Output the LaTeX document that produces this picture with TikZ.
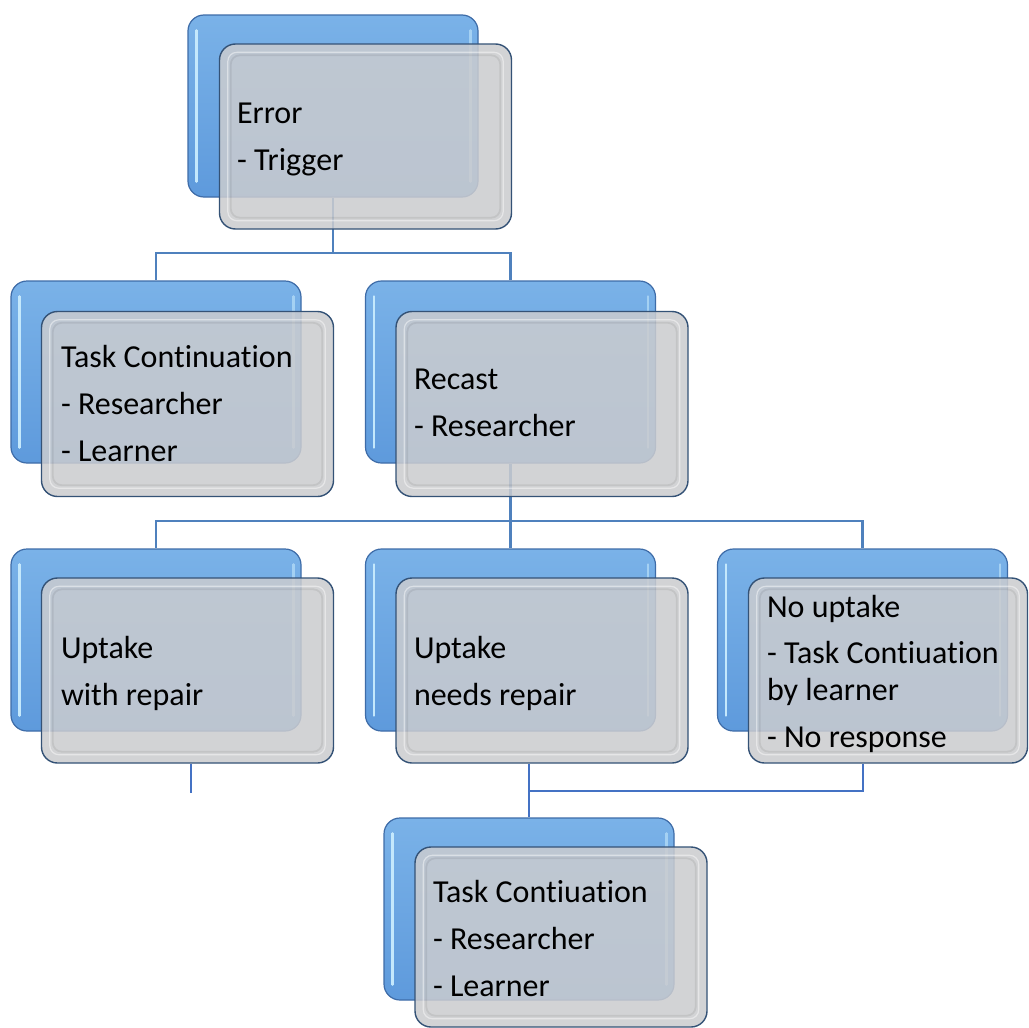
\documentclass[tikz,border=0pt]{standalone}
\usepackage{fontspec}
\setmainfont{Carlito}[Ligatures=NoCommon]
\definecolor{bluetop}{RGB}{122,178,232}
\definecolor{bluebot}{RGB}{94,154,220}
\definecolor{blueedge}{RGB}{62,108,168}
\definecolor{bluehi}{RGB}{196,232,252}
\definecolor{cardfill}{RGB}{203,204,207}
\definecolor{cardedge}{RGB}{52,82,118}
\definecolor{connblue}{RGB}{79,129,189}
\definecolor{lineblue}{RGB}{68,114,196}
\begin{document}
\begin{tikzpicture}[x=1pt,y=-1pt,
  backbox/.style={rounded corners=16pt, minimum width=290pt, minimum height=182pt,
    inner sep=0pt, draw=blueedge, line width=1.2pt, top color=bluetop, bottom color=bluebot},
  frontbox/.style={rounded corners=16pt, minimum width=292pt, minimum height=185pt,
    inner sep=0pt, draw=cardedge, line width=1.4pt, fill=cardfill, fill opacity=0.86},
  hilite/.style={draw=bluehi, line width=2.4pt, line cap=round},
  bevel/.style={draw=white, draw opacity=0.45, line width=1.2pt, rounded corners=9pt},
  bevelshade/.style={draw=black, draw opacity=0.07, line width=1.8pt, rounded corners=9pt},
  conn/.style={draw=connblue, line width=2.6pt},
  userline/.style={draw=lineblue, line width=2pt},
  label/.style={anchor=base west, align=left, inner sep=0pt, outer sep=0pt,
    font=\fontsize{32}{47}\selectfont, text=black},
]
\useasboundingbox (0,0) rectangle (1029,1028);
\fill[white] (0,0) rectangle (1029,1028);

% back (blue) boxes
\foreach \nm/\cx/\cy in {errB/333/106, contB/156/372, recB/510.5/372,
                          upaB/156/640, upbB/510.5/640, noupB/862.5/640, lastB/529/909}{
  \node[backbox] (\nm) at (\cx,\cy) {};
  \draw[hilite] ([xshift=9pt,yshift=-16pt]\nm.north west) -- ([xshift=9pt,yshift=16pt]\nm.south west);
  \draw[hilite, draw opacity=0.6] ([xshift=-8pt,yshift=-16pt]\nm.north east) -- ([xshift=-8pt,yshift=16pt]\nm.south east);
}

% bus coordinates of the tree connectors
\coordinate (busA) at (0,253);
\coordinate (busB) at (0,521);

% tree connectors
\draw[conn] (errB.south) -- (errB.south |- busA) -| (contB.north);
\draw[conn] (errB.south |- busA) -| (recB.north);
\draw[conn] (recB.south) -- (recB.south |- busB) -| (upaB.north);
\draw[conn] (recB.south |- busB) -| (upbB.north);
\draw[conn] (recB.south |- busB) -| (noupB.north);

% front (grey) cards
\node[frontbox] (errF)  at (365.5,136.5) {};
\node[frontbox] (contF) at (187.5,404) {};
\node[frontbox] (recF)  at (542,404) {};
\node[frontbox] (upaF)  at (187.5,670.5) {};
\node[frontbox] (upbF)  at (542,670.5) {};
\node[frontbox, minimum width=279pt] (noupF) at (888,670.5) {};
\node[frontbox, minimum height=180pt] (lastF) at (561,937) {};

\foreach \nm in {errF, contF, recF, upaF, upbF, noupF, lastF}{
  \draw[bevelshade] ([shift={(12pt,-12pt)}]\nm.north west) rectangle ([shift={(-12pt,12pt)}]\nm.south east);
  \draw[bevel] ([shift={(9pt,-9pt)}]\nm.north west) rectangle ([shift={(-9pt,9pt)}]\nm.south east);
}

% texts (anchored at the baseline of the last line)
\node[label] (errT)  at (237,170) {Error\\- Trigger};
\node[label] (contT) at (61,461)  {Task Continuation\\- Researcher\\- Learner};
\node[label] (recT)  at (414,436) {Recast\\- Researcher};
\node[label] (upaT)  at (61,705)  {Uptake\\with repair};
\node[label] (upbT)  at (414,705) {Uptake\\needs repair};
\node[label, font=\fontsize{32}{37}\selectfont] (noupT) at (767,747)
  {No uptake\\[9pt]- Task Contiuation\\by learner\\[10pt]- No response};
\node[label] (lastT) at (433,996) {Task Contiuation\\- Researcher\\- Learner};

% hand-drawn links below the third row
\coordinate (stray) at (191,793);
\coordinate (join) at (529,791);
\draw[userline] (stray |- upaF.south) -- (stray);
\draw[userline] (lastB.north |- upbF.south) -- (lastB.north);
\draw[userline] (join) -- (join -| noupB.south) -- (noupB.south |- noupF.south);
\end{tikzpicture}
\end{document}
